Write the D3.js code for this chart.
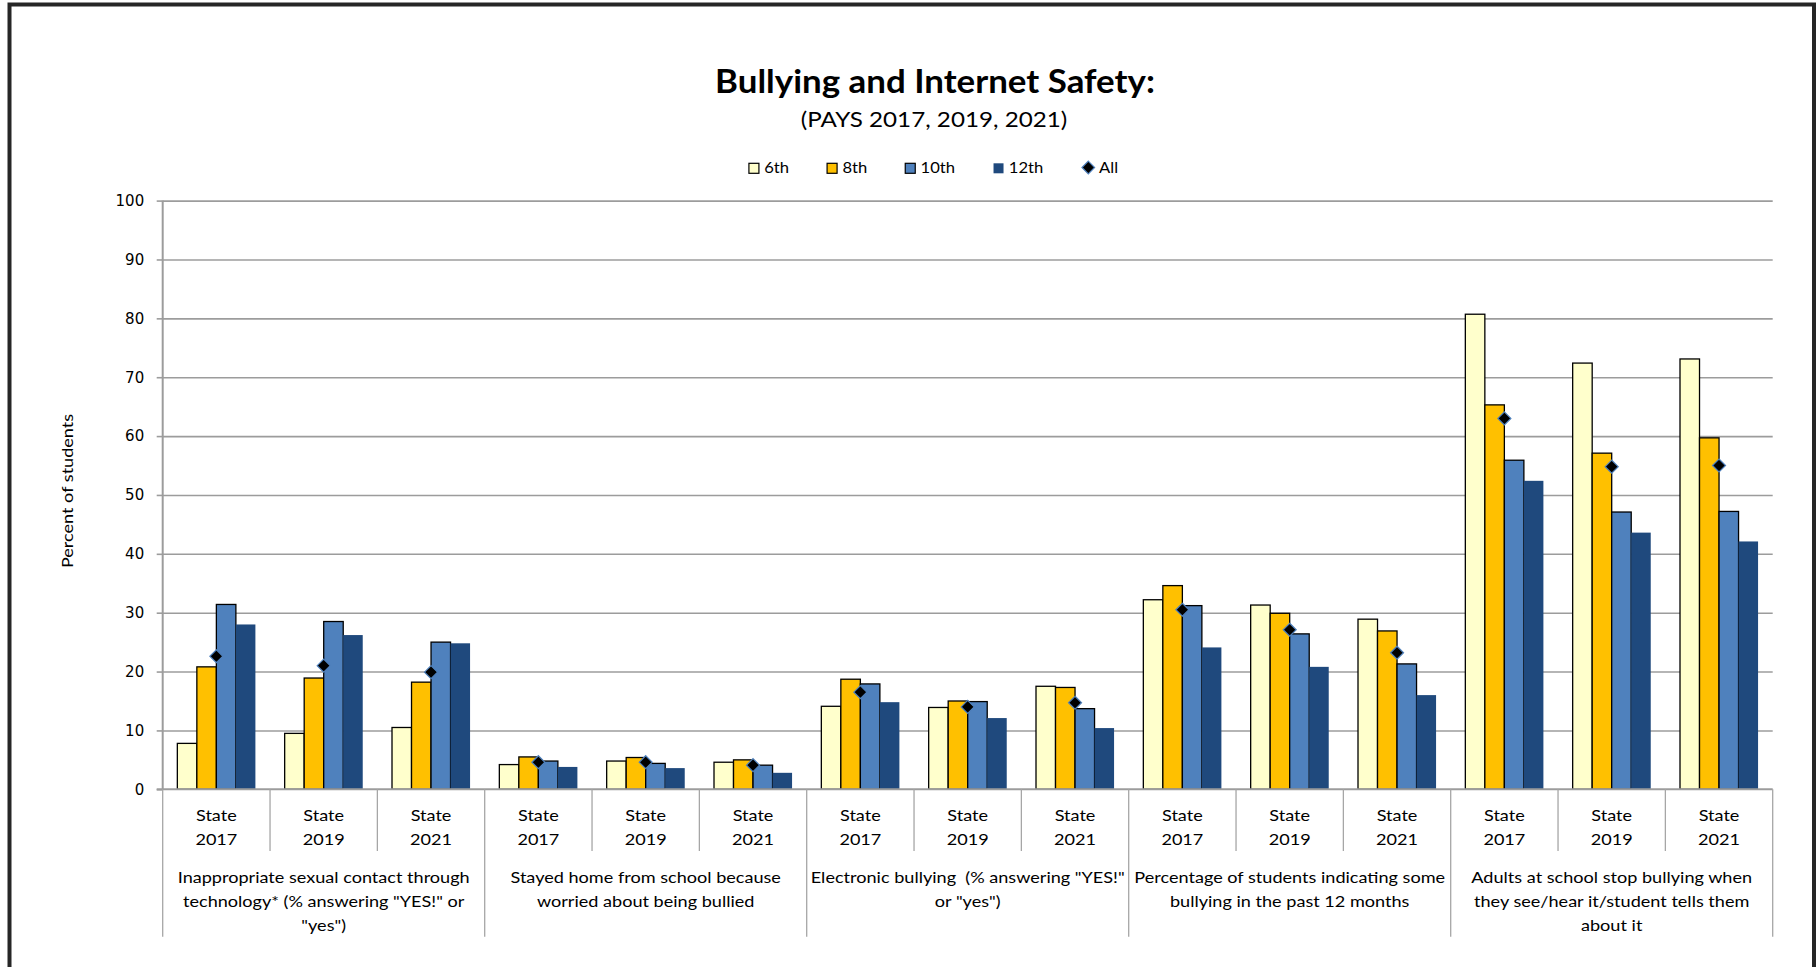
<!DOCTYPE html>
<html><head><meta charset="utf-8">
<script src="https://cdn.jsdelivr.net/npm/d3@7"></script>
<style>html,body{margin:0;padding:0;background:#fff;} svg{display:block;} text{white-space:pre;}</style>
</head><body>
<svg id="chart" width="1818" height="967"></svg>
<script>
// ---------------- data ----------------
const groupLabels = [
  ["Inappropriate sexual contact through", "technology* (% answering \"YES!\" or", "\"yes\")"],
  ["Stayed home from school because", "worried about being bullied"],
  ["Electronic bullying  (% answering \"YES!\"", "or \"yes\")"],
  ["Percentage of students indicating some", "bullying in the past 12 months"],
  ["Adults at school stop bullying when", "they see/hear it/student tells them", "about it"]
];
const yearLabels = [["State", "2017"], ["State", "2019"], ["State", "2021"]];
const seriesNames = ["6th", "8th", "10th", "12th"];
const grade6  = [7.8, 9.5, 10.5, 4.2, 4.8, 4.6, 14.1, 13.9, 17.5, 32.2, 31.3, 28.9, 80.7, 72.4, 73.1];
const grade8  = [20.8, 18.9, 18.2, 5.5, 5.4, 5.0, 18.7, 15.0, 17.3, 34.6, 29.9, 26.9, 65.3, 57.1, 59.7];
const grade10 = [31.4, 28.5, 25.0, 4.8, 4.4, 4.1, 17.9, 14.9, 13.7, 31.2, 26.4, 21.3, 55.9, 47.1, 47.2];
const grade12 = [28.0, 26.2, 24.8, 3.8, 3.6, 2.8, 14.8, 12.1, 10.4, 24.1, 20.8, 16.0, 52.4, 43.6, 42.1];
const allStudents = [22.6, 21.0, 19.9, 4.6, 4.6, 4.1, 16.5, 14.0, 14.7, 30.5, 27.1, 23.2, 63.0, 54.8, 55.0];
const yTicks = [0, 10, 20, 30, 40, 50, 60, 70, 80, 90, 100];
const titleText = "Bullying and Internet Safety:";
const subtitleText = "(PAYS 2017, 2019, 2021)";
const yAxisTitle = "Percent of students";
const allLabel = "All";

// ---------------- style ----------------
const colors = {"6th": "#FFFFCC", "8th": "#FFC000", "10th": "#4F81BD", "12th": "#1F497D"};
const outlined = {"6th": true, "8th": true, "10th": true, "12th": false};
const FONT = "Lato, 'Open Sans', sans-serif";
const STRETCH = 1.13;

const seriesValues = {"6th": grade6, "8th": grade8, "10th": grade10, "12th": grade12};
const categories = [];
groupLabels.forEach((g, gi) => yearLabels.forEach((yl, yi) => categories.push({g: gi, y: yi, key: gi + "-" + yi})));

const svg = d3.select("#chart");
const plot = {left: 162.7, right: 1772.7, top: 200.6, bottom: 789.3};

const x0 = d3.scaleBand().domain(categories.map(c => c.key)).range([plot.left, plot.right]).paddingInner(0).paddingOuter(0);
const x1 = d3.scaleBand().domain(seriesNames).range([0, x0.bandwidth()]).paddingInner(0).paddingOuter(0.75);
const y = d3.scaleLinear().domain([0, 100]).range([plot.bottom, plot.top]);

function stretch(sel, k) {
  sel.each(function () {
    const L = this.getComputedTextLength();
    this.setAttribute("textLength", L * k);
    this.setAttribute("lengthAdjust", "spacingAndGlyphs");
  });
}

// frame
svg.append("rect").attr("x", 9.5).attr("y", 4.5).attr("width", 1804.5).attr("height", 1100)
  .attr("fill", "none").attr("stroke", "#262626").attr("stroke-width", 4);

// title
const title = svg.append("text").attr("x", 935).attr("y", 93.3).attr("text-anchor", "middle")
  .attr("font-family", FONT).attr("font-weight", 700).attr("font-size", 32).attr("fill", "#000").text(titleText);
stretch(title, 1.09);
const sub = svg.append("text").attr("x", 934).attr("y", 127.3).attr("text-anchor", "middle")
  .attr("font-family", FONT).attr("font-size", 20.5).attr("fill", "#000").text(subtitleText);
stretch(sub, 1.18);

// gridlines + y axis ticks
const yAxis = d3.axisLeft(y).tickValues(yTicks).tickSize(6).tickPadding(12.5).tickSizeOuter(0);
const gy = svg.append("g").attr("transform", `translate(${plot.left},0)`).call(yAxis);
gy.select(".domain").remove();
gy.selectAll(".tick line").attr("stroke", "#9c9c9c").attr("stroke-width", 1.6);
gy.selectAll(".tick text").attr("font-family", "'DejaVu Sans', Verdana, sans-serif").attr("font-size", 15).attr("fill", "#000");
const grid = d3.axisLeft(y).tickValues(yTicks.filter(t => t > 0)).tickSize(-(plot.right - plot.left)).tickFormat("");
const gg = svg.append("g").attr("transform", `translate(${plot.left},0)`).call(grid);
gg.select(".domain").remove();
gg.selectAll(".tick line").attr("stroke", "#9c9c9c").attr("stroke-width", 1.6);

// bars
const cat = svg.append("g").selectAll("g").data(categories).join("g")
  .attr("transform", c => `translate(${x0(c.key)},0)`);
cat.selectAll("rect").data((c, i) => seriesNames.map(s => ({s, v: seriesValues[s][i]}))).join("rect")
  .attr("x", d => x1(d.s)).attr("width", x1.bandwidth())
  .attr("y", d => y(d.v)).attr("height", d => y(0) - y(d.v))
  .attr("fill", d => colors[d.s])
  .attr("stroke", d => outlined[d.s] ? "#000" : "none")
  .attr("stroke-width", 1.3);

// y axis line and x axis baseline
svg.append("line").attr("x1", plot.left).attr("x2", plot.left).attr("y1", y(100)).attr("y2", y(0))
  .attr("stroke", "#9c9c9c").attr("stroke-width", 2);
svg.append("line").attr("x1", plot.left - 6).attr("x2", plot.right).attr("y1", y(0)).attr("y2", y(0))
  .attr("stroke", "#9c9c9c").attr("stroke-width", 2);

// diamonds (All)
const diamond = r => `M0,${-r}L${r},0L0,${r}L${-r},0Z`;
svg.append("g").selectAll("path").data(categories).join("path")
  .attr("transform", (c, i) => `translate(${x0(c.key) + x0.bandwidth() / 2},${y(allStudents[i])})`)
  .attr("d", diamond(6.5)).attr("fill", "#000").attr("stroke", "#4F81BD").attr("stroke-width", 1.2);

// category separators
const step = x0.step();
const seps = d3.range(categories.length + 1);
svg.append("g").selectAll("line").data(seps).join("line")
  .attr("x1", i => plot.left + i * step).attr("x2", i => plot.left + i * step)
  .attr("y1", y(0)).attr("y2", i => (i % 3 === 0 ? 936.7 : 851))
  .attr("stroke", "#a6a6a6").attr("stroke-width", 1.3);

// category labels
const catLabels = svg.append("g").selectAll("text").data(categories).join("text")
  .attr("text-anchor", "middle").attr("font-family", FONT).attr("font-size", 16).attr("fill", "#000");
catLabels.selectAll("tspan").data(c => yearLabels[c.y].map(t => ({t, c}))).join("tspan")
  .attr("x", d => x0(d.c.key) + x0.bandwidth() / 2)
  .attr("y", (d, i) => 820.7 + i * 24.3)
  .text(d => d.t);
catLabels.each(function () {
  d3.select(this).selectAll("tspan").each(function () {
    const L = this.getComputedTextLength();
    this.setAttribute("textLength", L * STRETCH);
    this.setAttribute("lengthAdjust", "spacingAndGlyphs");
  });
});

// group labels
const groupG = svg.append("g");
groupLabels.forEach((lines, gi) => {
  const cx = x0(categories[gi * 3].key) + 1.5 * step;
  lines.forEach((ln, li) => {
    const t = groupG.append("text").attr("x", cx).attr("y", 882.9 + li * 24)
      .attr("text-anchor", "middle").attr("font-family", FONT).attr("font-size", 16).attr("fill", "#000").text(ln);
    stretch(t, STRETCH);
  });
});

// y axis title
const yt = svg.append("text").attr("transform", "translate(72.5,491) rotate(-90)").attr("text-anchor", "middle")
  .attr("font-family", FONT).attr("font-size", 16).attr("fill", "#000").text(yAxisTitle);
stretch(yt, STRETCH);

// legend
const LEG_STRETCH = 1.05;
const legendItems = seriesNames.map(s => ({name: s, type: "box"})).concat([{name: allLabel, type: "diamond"}]);
const lg = svg.append("g");
const items = lg.selectAll("g").data(legendItems).join("g");
items.append("text").attr("x", d => d.type === "box" ? 15.3 : 17.3).attr("y", 172.7).attr("font-family", FONT).attr("font-size", 15.8)
  .attr("fill", "#000").text(d => d.name).call(stretch, LEG_STRETCH);
const widths = [];
items.each(function (d) {
  const w = (d.type === "box" ? 15.3 : 17.3) + this.querySelector("text").getComputedTextLength() * LEG_STRETCH;
  widths.push(w);
});
const gap = 36.8;
const total = d3.sum(widths) + gap * (widths.length - 1);
const start = 934 - total / 2;
items.attr("transform", (d, i) => `translate(${start + d3.sum(widths.slice(0, i)) + gap * i},0)`);
items.filter(d => d.type === "box").append("rect").attr("x", 0).attr("y", 163.3).attr("width", 10).attr("height", 10)
  .attr("fill", d => colors[d.name]).attr("stroke", d => outlined[d.name] ? "#000" : "none").attr("stroke-width", 1.2);
items.filter(d => d.type === "diamond").append("path").attr("transform", "translate(6.5,167.5)")
  .attr("d", diamond(6.3)).attr("fill", "#000").attr("stroke", "#4F81BD").attr("stroke-width", 1.2);
</script>
</body></html>
